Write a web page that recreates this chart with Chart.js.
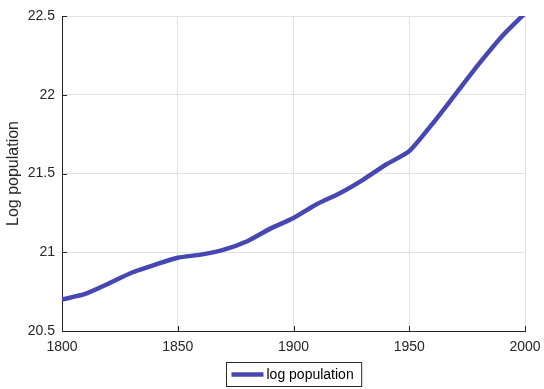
<!DOCTYPE html>
<html>
<head>
<meta charset="utf-8">
<title>Log population</title>
<script src="https://cdn.jsdelivr.net/npm/chart.js@4/dist/chart.umd.min.js"></script>
<style>
  html, body { margin: 0; padding: 0; background: #ffffff; }
  #wrap { width: 544px; height: 389px; position: relative; }
</style>
</head>
<body>
<div id="wrap"><canvas id="chart"></canvas></div>
<script>
// Decade years and the log of the population in each
const years = [1800, 1810, 1820, 1830, 1840, 1850, 1860, 1870, 1880, 1890, 1900,
               1910, 1920, 1930, 1940, 1950, 1960, 1970, 1980, 1990, 2000];
const logPopulation = [20.70, 20.735, 20.80, 20.87, 20.92, 20.965, 20.985, 21.017, 21.07, 21.15, 21.218,
                       21.305, 21.375, 21.46, 21.557, 21.642, 21.815, 22.004, 22.194, 22.37, 22.517];
const xTicks = [1800, 1850, 1900, 1950, 2000];
const yTicks = [20.5, 21, 21.5, 22, 22.5];
const seriesName = 'log population';
const axisTitleY = 'Log population';

const INK = '#262626';
const LINE = '#4747b3';
const FONT = "'Liberation Sans', Arial, Helvetica, sans-serif";

// Short inward tick marks on the left and bottom axes
const inwardTicks = {
  id: 'inwardTicks',
  afterDatasetsDraw(chart) {
    const { ctx, chartArea: a, scales: { x, y } } = chart;
    ctx.save();
    ctx.strokeStyle = INK;
    ctx.lineWidth = 1;
    ctx.beginPath();
    yTicks.forEach(v => {
      const py = Math.round(y.getPixelForValue(v)) + 0.5;
      ctx.moveTo(a.left, py); ctx.lineTo(a.left + 5, py);
    });
    xTicks.forEach(v => {
      const px = Math.round(x.getPixelForValue(v)) + 0.5;
      ctx.moveTo(px, a.bottom); ctx.lineTo(px, a.bottom - 5);
    });
    ctx.stroke();
    ctx.restore();
  }
};

// Boxed legend centred under the x axis
const boxedLegend = {
  id: 'boxedLegend',
  afterDraw(chart) {
    const { ctx } = chart;
    const ds = chart.data.datasets[0];
    ctx.save();
    ctx.font = '14px ' + FONT;
    const tw = ctx.measureText(ds.label).width;
    const sample = 32, gap = 3, padL = 5, padR = 8;
    const w = padL + sample + gap + tw + padR;
    const h = 24;
    const cx = (chart.chartArea.left + chart.chartArea.right) / 2;
    const left = Math.round(cx - w / 2) + 0.5;
    const top = 362.5;
    ctx.fillStyle = '#ffffff';
    ctx.fillRect(left, top, w, h);
    ctx.strokeStyle = INK;
    ctx.lineWidth = 1;
    ctx.strokeRect(left, top, w, h);
    const my = top + h / 2;
    ctx.strokeStyle = ds.borderColor;
    ctx.lineWidth = ds.borderWidth;
    ctx.beginPath();
    ctx.moveTo(left + padL, my);
    ctx.lineTo(left + padL + sample, my);
    ctx.stroke();
    ctx.fillStyle = '#000000';
    ctx.textBaseline = 'middle';
    ctx.textAlign = 'left';
    ctx.fillText(ds.label, left + padL + sample + gap, my + 0.5);
    ctx.restore();
  }
};

new Chart(document.getElementById('chart'), {
  type: 'line',
  data: {
    datasets: [{
      label: seriesName,
      data: years.map((yr, i) => ({ x: yr, y: logPopulation[i] })),
      borderColor: LINE,
      backgroundColor: LINE,
      borderWidth: 4.5,
      pointRadius: 0,
      tension: 0.2,
      fill: false
    }]
  },
  options: {
    responsive: true,
    maintainAspectRatio: false,
    animation: false,
    layout: { padding: { top: 16, right: 19, left: 0, bottom: 28 } },
    plugins: {
      legend: { display: false },
      tooltip: { enabled: false }
    },
    scales: {
      x: {
        type: 'linear',
        min: 1800,
        max: 2000,
        afterFit(scale) {
          scale.height = 30;
          scale.paddingLeft = 0;
          scale.paddingRight = 0;
        },
        afterBuildTicks(scale) { scale.ticks = xTicks.map(v => ({ value: v })); },
        grid: { color: '#e2e2e2', drawTicks: false },
        border: { display: true, color: INK, width: 1 },
        ticks: {
          padding: 8,
          color: INK,
          font: { family: FONT, size: 14 },
          callback: v => String(v)
        }
      },
      y: {
        type: 'linear',
        min: 20.5,
        max: 22.5,
        afterFit(scale) {
          scale.width = 62;
          scale.paddingTop = 0;
          scale.paddingBottom = 0;
        },
        afterBuildTicks(scale) { scale.ticks = yTicks.map(v => ({ value: v })); },
        grid: { color: '#e2e2e2', drawTicks: false },
        border: { display: true, color: INK, width: 1 },
        ticks: {
          padding: 7,
          color: INK,
          font: { family: FONT, size: 14 },
          callback: v => String(v)
        },
        title: {
          display: true,
          text: axisTitleY,
          color: INK,
          font: { family: FONT, size: 16 },
          padding: { top: 4, bottom: 0 }
        }
      }
    }
  },
  plugins: [inwardTicks, boxedLegend]
});
</script>
</body>
</html>
